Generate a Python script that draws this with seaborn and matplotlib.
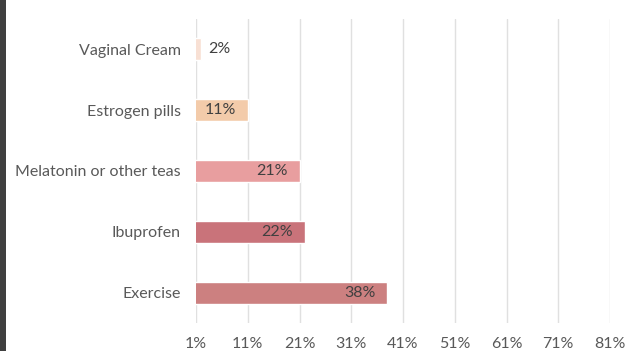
import matplotlib
matplotlib.use("Agg")
import matplotlib.pyplot as plt
import seaborn as sns
import pandas as pd
from matplotlib.patches import Rectangle

categories = ["Vaginal Cream", "Estrogen pills", "Melatonin or other teas", "Ibuprofen", "Exercise"]
values = [2, 11, 21, 22, 38]
bar_colors = ["#F8E0D4", "#F3CBAA", "#E89E9F", "#C9737A", "#CC8080"]
tick_values = [1, 11, 21, 31, 41, 51, 61, 71, 81]
tick_labels = [f"{t}%" for t in tick_values]

sns.set_theme(style="white")
plt.rcParams['font.family'] = ['Lato', 'DejaVu Sans']

df = pd.DataFrame({"cat": categories, "val": values})

fig = plt.figure(figsize=(6.26, 3.51), dpi=100)
ax = fig.add_axes([196/626, 1 - 323/351, (610 - 196)/626, (323 - 19)/351])

sns.barplot(data=df, y="cat", x="val", hue="cat", palette=bar_colors, legend=False,
            orient="h", width=0.36, ax=ax, saturation=1)

ax.set_xlim(1, 81)
ax.set_ylim(4.5, -0.5)
ax.set_xticks(tick_values)
ax.set_xticklabels(tick_labels)
ax.xaxis.grid(True, color="#E0E0E0", linewidth=1.0)
ax.set_axisbelow(True)
for s in ax.spines.values():
    s.set_visible(False)
ax.set_xlabel("")
ax.set_ylabel("")
ax.tick_params(axis="both", length=0, labelsize=11.5, colors="#595959")
ax.tick_params(axis="y", pad=11)
ax.tick_params(axis="x", pad=10)

for i, v in enumerate(values):
    if v < 5:
        ax.text(v + 1.4, i, f"{v}%", va="center", ha="left", fontsize=11.5, color="#404040")
    else:
        ax.text(v - 2.2, i, f"{v}%", va="center", ha="right", fontsize=11.5, color="#404040")

fig.patches.append(Rectangle((0, 0), 6/626, 1, transform=fig.transFigure,
                             facecolor="#404040", edgecolor="none"))

fig.savefig("out.png", dpi=100)
